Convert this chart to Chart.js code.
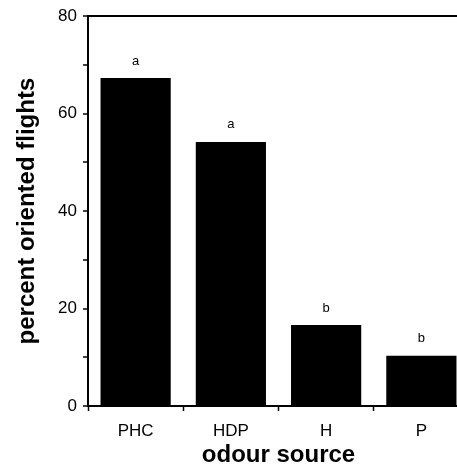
<!DOCTYPE html>
<html>
<head>
<meta charset="utf-8">
<script src="https://cdn.jsdelivr.net/npm/chart.js@4.4.1/dist/chart.umd.min.js"></script>
<style>
  html, body { margin: 0; padding: 0; background: #fff; overflow: hidden; }
  #wrap { width: 457px; height: 466px; overflow: hidden; }
  canvas { display: block; }
</style>
</head>
<body>
<div id="wrap"><canvas id="c" width="469" height="466" style="width:469px;height:466px"></canvas></div>
<script>
const categories = ['PHC', 'HDP', 'H', 'P'];
const percentOriented = [67.3, 54.2, 16.6, 10.3];
const significanceLetters = ['a', 'a', 'b', 'b'];
const yMin = 0, yMax = 80, yStep = 10, yLabelStep = 20;

const FONT = "'Liberation Sans', Arial, Helvetica, sans-serif";

const letterPlugin = {
  id: 'letters',
  afterDatasetsDraw(chart) {
    const ctx = chart.ctx;
    const meta = chart.getDatasetMeta(0);
    ctx.save();
    ctx.fillStyle = '#000';
    ctx.font = '13px ' + FONT;
    ctx.textAlign = 'center';
    ctx.textBaseline = 'middle';
    meta.data.forEach((bar, i) => {
      ctx.fillText(significanceLetters[i], bar.x, bar.y - 17);
    });
    ctx.restore();
  }
};

new Chart(document.getElementById('c'), {
  type: 'bar',
  data: {
    labels: categories,
    datasets: [{
      data: percentOriented,
      backgroundColor: '#000',
      borderWidth: 0,
      barPercentage: 0.737,
      categoryPercentage: 1.0
    }]
  },
  options: {
    responsive: false,
    animation: false,
    devicePixelRatio: 1,
    layout: { padding: { top: 16, left: 0, right: 0, bottom: 0 } },
    plugins: {
      legend: { display: false },
      tooltip: { enabled: false }
    },
    scales: {
      x: {
        grid: {
          display: true,
          drawOnChartArea: false,
          drawTicks: true,
          tickLength: 5,
          tickColor: '#000',
          tickWidth: 1.5,
          offset: true
        },
        border: { display: true, color: '#000', width: 2 },
        ticks: {
          color: '#000',
          font: { family: FONT, size: 17 },
          padding: 10,
          maxRotation: 0
        },
        title: {
          display: true,
          text: 'odour source',
          color: '#000',
          font: { family: FONT, size: 24, weight: 'bold', lineHeight: 0.9 },
          padding: { top: 0, bottom: 0 }
        },
        afterFit(scale) { scale.height = 60; }
      },
      y: {
        min: yMin,
        max: yMax,
        grid: {
          display: true,
          drawOnChartArea: true,
          drawTicks: true,
          tickLength: 5,
          tickColor: '#000',
          tickWidth: 1.5,
          lineWidth: 2,
          color: (c) => (c.tick && c.tick.value === yMax) ? '#000' : 'rgba(0,0,0,0)'
        },
        border: { display: true, color: '#000', width: 2 },
        ticks: {
          stepSize: yStep,
          color: '#000',
          font: { family: FONT, size: 17 },
          padding: 6,
          callback: (v) => (v % yLabelStep === 0 ? String(v) : '')
        },
        title: {
          display: true,
          text: 'percent oriented flights',
          color: '#000',
          font: { family: FONT, size: 24, weight: 'bold' },
          padding: { top: 13, bottom: 0 }
        },
        afterFit(scale) { scale.width = 88; }
      }
    }
  },
  plugins: [letterPlugin]
});
</script>
</body>
</html>
